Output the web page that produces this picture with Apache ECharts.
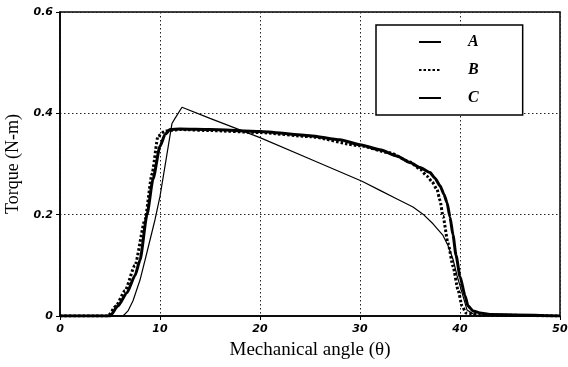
<!DOCTYPE html>
<html>
<head>
<meta charset="utf-8">
<script src="https://cdn.jsdelivr.net/npm/echarts@6/dist/echarts.min.js"></script>
<style>
  html, body { margin: 0; padding: 0; background: #fff; }
  #main { width: 568px; height: 367px; }
</style>
</head>
<body>
<div id="main"></div>
<script>
// series data (mechanical angle in degrees, torque in N-m)
const angleA = [0, 5, 5.8, 6.7, 7.5, 8, 8.7, 9.3, 10, 10.5, 11, 12, 15, 20, 25, 28, 30, 32, 33.7, 35, 36, 37, 37.5, 38, 38.4, 38.7, 39, 39.3, 39.6, 40, 40.5, 40.8, 41.3, 42, 43, 50];
const torqueA = [0, 0, 0.02, 0.046, 0.08, 0.11, 0.2, 0.27, 0.335, 0.358, 0.368, 0.369, 0.368, 0.364, 0.356, 0.348, 0.338, 0.328, 0.316, 0.303, 0.293, 0.283, 0.272, 0.257, 0.24, 0.224, 0.195, 0.16, 0.12, 0.078, 0.04, 0.02, 0.01, 0.006, 0.003, 0];

const angleB = [0, 4.8, 5.6, 6.5, 7.5, 8.5, 9.2, 9.8, 10.5, 12, 15, 20, 25, 30, 33, 35, 36, 36.7, 37.2, 37.7, 38, 38.3, 38.8, 39.3, 39.8, 40.2, 40.6, 42, 50];
const torqueB = [0, 0, 0.02, 0.05, 0.1, 0.19, 0.28, 0.355, 0.365, 0.368, 0.366, 0.362, 0.354, 0.336, 0.322, 0.304, 0.29, 0.276, 0.265, 0.25, 0.228, 0.197, 0.144, 0.098, 0.052, 0.02, 0.006, 0.002, 0];

const angleC = [0, 6.3, 6.8, 7.3, 8, 8.5, 9, 9.5, 10, 10.7, 11.2, 11.5, 12.2, 15, 20, 25, 30.2, 32, 33.7, 35.3, 36.3, 37.3, 38.3, 38.8, 39.3, 39.7, 40.2, 40.7, 41.5, 50];
const torqueC = [0, 0, 0.01, 0.03, 0.071, 0.11, 0.15, 0.19, 0.236, 0.32, 0.38, 0.39, 0.412, 0.39, 0.352, 0.31, 0.266, 0.248, 0.231, 0.215, 0.201, 0.182, 0.159, 0.139, 0.112, 0.08, 0.046, 0.012, 0.002, 0];

const xTicks = [0, 10, 20, 30, 40, 50];
const yTicks = [0, 0.2, 0.4, 0.6];

const zip = (xs, ys) => xs.map((x, i) => [x, ys[i]]);

const myChart = echarts.init(document.getElementById('main'), null, { renderer: 'canvas' });

const tickFont = {
    color: '#000',
    fontSize: 11,
    fontStyle: 'italic',
    fontWeight: 'bold',
    fontFamily: 'DejaVu Sans, Verdana, sans-serif'
};
const dotted = { color: '#222', width: 1, type: [1.5, 2.5] };

const option = {
    backgroundColor: '#fff',
    animation: false,
    grid: {
        left: 60,
        right: 8,
        top: 12,
        bottom: 51,
        outerBoundsMode: 'none',
        show: true,
        borderColor: '#000',
        borderWidth: 1.5
    },
    legend: {
        data: ['A', 'B', 'C'],
        orient: 'vertical',
        left: 376,
        top: 25,
        padding: [9, 44, 9, 42],
        itemWidth: 22,
        itemHeight: 14,
        itemGap: 12,
        itemStyle: { opacity: 0 },
        backgroundColor: '#fff',
        borderColor: '#000',
        borderWidth: 1.5,
        textStyle: {
            color: '#000',
            fontSize: 16,
            fontStyle: 'italic',
            fontWeight: 'bold',
            fontFamily: 'Liberation Serif, Times New Roman, serif',
            padding: [0, 0, 0, 22]
        }
    },
    xAxis: {
        type: 'value',
        min: xTicks[0],
        max: xTicks[xTicks.length - 1],
        interval: 10,
        name: 'Mechanical angle (θ)',
        nameLocation: 'middle',
        nameGap: 25,
        nameTextStyle: {
            color: '#000',
            fontSize: 19,
            fontFamily: 'Liberation Serif, Times New Roman, serif'
        },
        axisLine: { show: true, lineStyle: { color: '#000', width: 1.5 } },
        axisTick: { show: true, length: 4, lineStyle: { color: '#000' } },
        axisLabel: Object.assign({ margin: 8 }, tickFont),
        splitLine: { show: true, lineStyle: dotted }
    },
    yAxis: {
        type: 'value',
        min: yTicks[0],
        max: yTicks[yTicks.length - 1],
        interval: 0.2,
        name: 'Torque (N-m)',
        nameLocation: 'middle',
        nameGap: 38,
        nameTextStyle: {
            color: '#000',
            fontSize: 18,
            fontFamily: 'Liberation Serif, Times New Roman, serif'
        },
        axisLine: { show: true, lineStyle: { color: '#000', width: 1.5 } },
        axisTick: { show: true, length: 4, lineStyle: { color: '#000' } },
        axisLabel: Object.assign({ margin: 7 }, tickFont),
        splitLine: { show: true, lineStyle: dotted }
    },
    series: [
        {
            name: 'A',
            type: 'line',
            data: zip(angleA, torqueA),
            showSymbol: false,
            symbol: 'none',
            smooth: 0.2,
            smoothMonotone: 'x',
            lineStyle: { color: '#000', width: 3 },
            itemStyle: { color: '#000' },
            z: 3
        },
        {
            name: 'B',
            type: 'line',
            data: zip(angleB, torqueB),
            showSymbol: false,
            symbol: 'none',
            smooth: 0.2,
            smoothMonotone: 'x',
            lineStyle: { color: '#000', width: 3, type: [2.5, 2] },
            itemStyle: { color: '#000' },
            z: 4
        },
        {
            name: 'C',
            type: 'line',
            data: zip(angleC, torqueC),
            showSymbol: false,
            symbol: 'none',
            lineStyle: { color: '#000', width: 1.2 },
            itemStyle: { color: '#000' },
            z: 2
        }
    ]
};

option && myChart.setOption(option);
</script>
</body>
</html>
